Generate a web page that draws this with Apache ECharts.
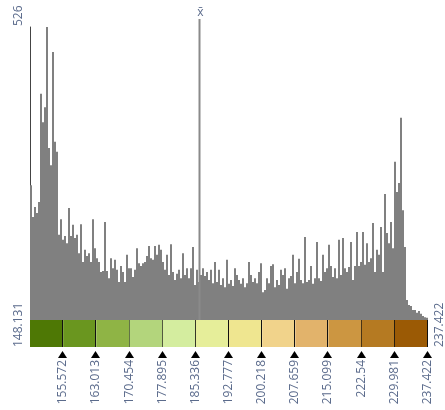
<!DOCTYPE html>
<html><head><meta charset="utf-8">
<script src="https://cdn.jsdelivr.net/npm/echarts@6/dist/echarts.min.js"></script>
<style>html,body{margin:0;padding:0;background:#fff}#c{width:445px;height:410px}</style>
</head><body><div id="c"></div>
<script>
const minValue = 148.131;
const maxValue = 237.422;
const maxCount = 526;
const meanValue = 186.16;
const breakLabels = ['155.572','163.013','170.454','177.895','185.336','192.777','200.218','207.659','215.099','222.54','229.981','237.422'];
const rampColors = ['#4e7805','#6a961f','#8fb445','#b3d57c','#d4ed9f','#e6ee9a','#efe690','#f1d38b','#e2b36b','#cc9641','#b57a22','#9b5a05'];
const counts = [
 242,185,203,192,212,406,355,382,526,309,
 278,481,320,302,153,181,144,151,138,201,
 151,171,147,153,120,172,104,126,115,120,
 104,181,129,111,104,86,88,176,88,75,
 111,93,108,90,68,97,86,68,117,93,
 93,77,90,129,102,97,102,104,115,133,
 111,108,133,117,135,126,104,90,117,81,
 136,86,72,83,90,75,120,81,93,75,
 93,131,63,90,68,81,93,79,86,72,
 90,66,104,68,90,63,75,59,108,65,
 72,61,93,81,72,65,75,59,66,104,
 81,68,75,66,86,102,50,54,75,66,
 97,100,59,72,63,90,81,93,56,75,
 79,117,66,86,110,72,66,149,68,72,
 97,65,75,140,75,70,117,86,93,135,
 97,77,93,75,144,81,147,93,86,95,
 140,72,97,158,97,104,158,99,138,104,
 111,174,86,126,117,167,86,226,156,138,
 176,129,284,230,246,363,197,131,36,27,
 25,18,18,13,16,11,7,5,4
];

const textColor = '#5b6b8c';
const fontFamily = '"Open Sans", sans-serif';
const breaks = [minValue].concat(breakLabels.map(Number));
const classes = rampColors.map((c, i) => [breaks[i], breaks[i + 1], i]);
const binIds = counts.map((_, i) => String(i));

const chart = echarts.init(document.getElementById('c'), null, {renderer: 'canvas'});
chart.setOption({
  animation: false,
  grid: [
    {left: 30, right: 17, top: 27, bottom: 90},
    {left: 30, right: 17, top: 320, height: 27}
  ],
  xAxis: [
    {type: 'category', gridIndex: 0, data: binIds, boundaryGap: true, show: false},
    {type: 'value', gridIndex: 0, min: minValue, max: maxValue, show: false},
    {type: 'value', gridIndex: 1, min: minValue, max: maxValue, show: false}
  ],
  yAxis: [
    {type: 'value', gridIndex: 0, min: 0, max: maxCount,
     axisLine: {show: true, lineStyle: {color: '#444', width: 1}},
     axisTick: {show: false}, axisLabel: {show: false}, splitLine: {show: false}},
    {type: 'value', gridIndex: 1, min: 0, max: 1, show: false}
  ],
  series: [
    {type: 'bar', xAxisIndex: 0, yAxisIndex: 0, data: counts, barCategoryGap: '0%',
     itemStyle: {color: '#808080'}, z: 2},
    {type: 'line', xAxisIndex: 1, yAxisIndex: 0, clip: false, symbol: 'none',
     data: [[meanValue, 0], [meanValue, maxCount * 1.027]],
     lineStyle: {color: '#8a8a8a', width: 2}, z: 3},
    {type: 'custom', xAxisIndex: 2, yAxisIndex: 1, data: classes,
     renderItem: function (params, api) {
       const p0 = api.coord([api.value(0), 1]);
       const p1 = api.coord([api.value(1), 0]);
       const idx = api.value(2);
       return {type: 'group', children: [
         {type: 'rect', shape: {x: p0[0], y: p0[1], width: p1[0] - p0[0], height: p1[1] - p0[1]},
          style: {fill: rampColors[idx]}},
         {type: 'line', shape: {x1: Math.round(p1[0]) - 0.5, y1: p0[1], x2: Math.round(p1[0]) - 0.5, y2: p1[1]},
          style: {stroke: '#111', lineWidth: 1}}
       ]};
     }},
    {type: 'custom', xAxisIndex: 2, yAxisIndex: 1, clip: false,
     data: breakLabels.map((l, i) => [Number(l), i]),
     renderItem: function (params, api) {
       const p = api.coord([api.value(0), 0]);
       const x = Math.round(p[0]) - 0.5;
       const y = p[1];
       return {type: 'group', children: [
         {type: 'polygon', shape: {points: [[x, y + 4], [x - 4.5, y + 11], [x + 4.5, y + 11]]},
          style: {fill: '#000'}},
         {type: 'text', x: x, y: y + 13, rotation: Math.PI / 2,
          style: {text: breakLabels[api.value(1)], fill: textColor, fontSize: 12, fontFamily: fontFamily,
                  align: 'right', verticalAlign: 'middle'}}
       ]};
     }}
  ]
});

const leftPx = chart.convertToPixel({xAxisIndex: 1}, minValue);
const rightPx = chart.convertToPixel({xAxisIndex: 1}, maxValue);
const topPx = chart.convertToPixel({yAxisIndex: 0}, maxCount);
const rampBottom = chart.convertToPixel({yAxisIndex: 1}, 0);
const meanPx = chart.convertToPixel({xAxisIndex: 1}, meanValue);
const meanTop = chart.convertToPixel({yAxisIndex: 0}, maxCount * 1.027);
const txt = (t, x, y, align, rot, vAlign) => ({
  type: 'text', x: x, y: y, rotation: rot,
  style: {text: t, fill: textColor, fontSize: 12, fontFamily: fontFamily, align: align, verticalAlign: vAlign || 'middle'}
});
chart.setOption({graphic: [
  txt(String(maxCount), leftPx - 11, topPx - 1, 'left', Math.PI / 2),
  txt(String(minValue), leftPx - 11, rampBottom, 'left', Math.PI / 2),
  txt(String(maxValue), rightPx + 12, rampBottom, 'left', Math.PI / 2),
  txt('x\u0304', meanPx + 1, meanTop - 1, 'center', 0, 'bottom')
]});
</script></body></html>
